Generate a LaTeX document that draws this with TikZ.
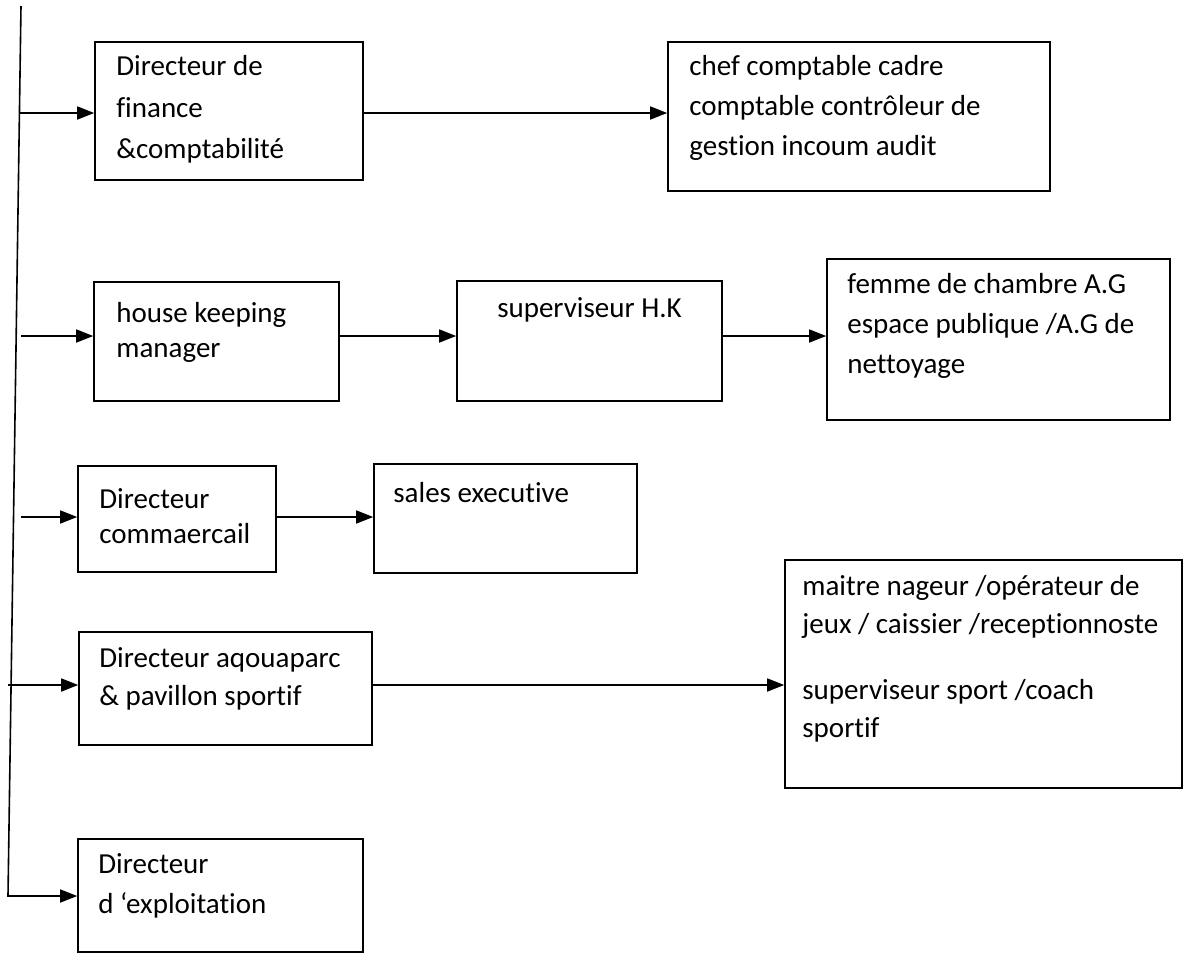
\documentclass[tikz,border=0pt]{standalone}
\usepackage{fontspec}
\setmainfont{Carlito}[Ligatures={NoCommon}]
\usetikzlibrary{arrows.meta}

\begin{document}
\begin{tikzpicture}[x=1pt,y=-1pt,
    box/.style={rectangle,draw=black,line width=1.6pt,inner sep=0pt},
    lbl/.style={anchor=north west,align=left,inner sep=0pt,font=\fontsize{29}{40}\selectfont,
      execute at begin node={\rule{0pt}{24pt}}},
    arr/.style={-{Triangle[length=17pt,width=13pt]},line width=1.6pt}]

      \useasboundingbox (0,0) rectangle (1184,954);

      \node[box,minimum width=268pt,minimum height=138pt] (fin) at (229,111){};
      \node[lbl,font=\fontsize{29}{41.5}\selectfont] at ([shift={(22,14)}]fin.north west){Directeur de\\finance\\\&comptabilité};
      \node[box,minimum width=382pt,minimum height=149pt] (chef) at (859,116.5){};
      \node[lbl] at ([shift={(22,14)}]chef.north west){chef comptable cadre\\comptable contrôleur de\\gestion incoum audit};

      \node[box,minimum width=245pt,minimum height=119pt] (house) at (216.5,341.5){};
      \node[lbl,font=\fontsize{29}{35}\selectfont] at ([shift={(23,21)}]house.north west){house keeping\\manager};
      \node[box,minimum width=265pt,minimum height=120pt] (sup) at (589.5,341){};
      \node[lbl,anchor=north] at ([shift={(0,13)}]sup.north){superviseur H.K};
      \node[box,minimum width=343pt,minimum height=161pt] (femme) at (998.5,339.5){};
      \node[lbl] at ([shift={(21,15)}]femme.north west){femme de chambre A.G\\espace publique /A.G de\\nettoyage};

      \node[box,minimum width=198pt,minimum height=106pt] (comm) at (177,519){};
      \node[lbl,font=\fontsize{29}{35}\selectfont] at ([shift={(22,23)}]comm.north west){Directeur\\commaercail};
      \node[box,minimum width=263pt,minimum height=109pt] (sales) at (505.5,518.5){};
      \node[lbl] at ([shift={(20,15)}]sales.north west){sales executive};

      \node[box,minimum width=293pt,minimum height=113pt] (aqua) at (225.5,688.5){};
      \node[lbl,font=\fontsize{29}{38}\selectfont] at ([shift={(21,16)}]aqua.north west){Directeur aqouaparc\\\& pavillon sportif};
      \node[box,minimum width=397pt,minimum height=228pt] (maitre) at (983.5,674){};
      \node[lbl,font=\fontsize{29}{38}\selectfont] at ([shift={(18,16)}]maitre.north west){maitre nageur /opérateur de\\jeux / caissier /receptionnoste\\[28pt]superviseur sport /coach\\sportif};

      \node[box,minimum width=285pt,minimum height=113pt] (exploit) at (220.5,895.5){};
      \node[lbl] at ([shift={(21,15)}]exploit.north west){Directeur\\d ‘exploitation};

      \coordinate (top) at (21,6);
      \coordinate (corner) at (8,896);
      \coordinate (s1) at (20,113);
      \coordinate (s2) at (21,336);
      \coordinate (s3) at (21,517);
      \coordinate (s4) at (8,685);

      \draw[arr] (top) -- (corner) -- (corner -| exploit.west);
      \draw[arr] (s1) -- (s1 -| fin.west);
      \draw[arr] (s1 -| fin.east) -- (s1 -| chef.west);
      \draw[arr] (s2) -- (s2 -| house.west);
      \draw[arr] (s2 -| house.east) -- (s2 -| sup.west);
      \draw[arr] (s2 -| sup.east) -- (s2 -| femme.west);
      \draw[arr] (s3) -- (s3 -| comm.west);
      \draw[arr] (s3 -| comm.east) -- (s3 -| sales.west);
      \draw[arr] (s4) -- (s4 -| aqua.west);
      \draw[arr] (s4 -| aqua.east) -- (s4 -| maitre.west);

    \end{tikzpicture}
\end{document}
